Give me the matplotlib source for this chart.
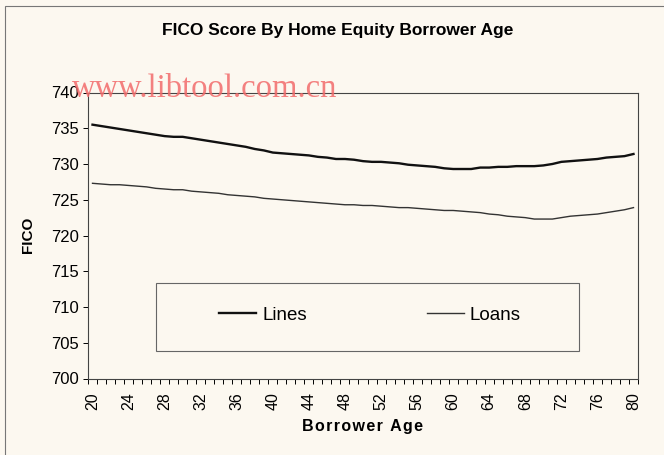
import numpy as np
import matplotlib.pyplot as plt
from matplotlib.patches import Rectangle

# ============================
# data
# ============================
ages = list(range(20, 81))
lines_fico = [735.5, 735.3, 735.1, 734.9, 734.7, 734.5, 734.3, 734.1, 733.9, 733.8,
              733.8, 733.6, 733.4, 733.2, 733.0, 732.8, 732.6, 732.4, 732.1, 731.9,
              731.6, 731.5, 731.4, 731.3, 731.2, 731.0, 730.9, 730.7, 730.7, 730.6,
              730.4, 730.3, 730.3, 730.2, 730.1, 729.9, 729.8, 729.7, 729.6, 729.4,
              729.3, 729.3, 729.3, 729.5, 729.5, 729.6, 729.6, 729.7, 729.7, 729.7,
              729.8, 730.0, 730.3, 730.4, 730.5, 730.6, 730.7, 730.9, 731.0, 731.1,
              731.4]
loans_fico = [727.3, 727.2, 727.1, 727.1, 727.0, 726.9, 726.8, 726.6, 726.5, 726.4,
              726.4, 726.2, 726.1, 726.0, 725.9, 725.7, 725.6, 725.5, 725.4, 725.2,
              725.1, 725.0, 724.9, 724.8, 724.7, 724.6, 724.5, 724.4, 724.3, 724.3,
              724.2, 724.2, 724.1, 724.0, 723.9, 723.9, 723.8, 723.7, 723.6, 723.5,
              723.5, 723.4, 723.3, 723.2, 723.0, 722.9, 722.7, 722.6, 722.5, 722.3,
              722.3, 722.3, 722.5, 722.7, 722.8, 722.9, 723.0, 723.2, 723.4, 723.6,
              723.9]
x_labels = [str(a) for a in range(20, 81, 4)]
y_ticks = list(range(700, 745, 5))

bg = '#fcf8f0'
plt.rcParams['font.family'] = ['Liberation Sans', 'DejaVu Sans']

W, H = 664, 455
fig = plt.figure(figsize=(6.64, 4.55), dpi=100, facecolor=bg)
ax = fig.add_axes([88 / W, 1 - 378.5 / H, 550 / W, 286 / H])
ax.set_facecolor(bg)

ax.plot(ages, lines_fico, color='#111111', lw=1.7, label='Lines')
ax.plot(ages, loans_fico, color='#333333', lw=1.0, label='Loans')

ax.set_xlim(19.5, 80.5)
ax.set_ylim(700, 740)
ax.set_yticks(y_ticks)
ax.set_xticks(range(20, 81, 4))
ax.set_xticklabels(x_labels, rotation=90, fontsize=11.5)
ax.set_xticks(np.arange(19.5, 81, 1), minor=True)
ax.tick_params(axis='x', which='major', length=0, pad=10)
ax.tick_params(axis='x', which='minor', length=3.5, direction='out', width=0.7)
ax.tick_params(axis='y', length=3.5, width=0.7, labelsize=12, pad=3)
for s in ax.spines.values():
    s.set_color('#444444')
    s.set_linewidth(0.8)

fig.text(337.5 / W, 1 - 30 / H, 'FICO Score By Home Equity Borrower Age',
         fontsize=12.5, fontweight='bold', ha='center', va='center')
fig.text(28 / W, 1 - 235 / H, 'FICO', fontsize=11, fontweight='bold',
         rotation=90, ha='center', va='center')
fig.text(363 / W, 1 - 427 / H, '\u200a'.join('Borrower Age'), fontsize=11.5,
         fontweight='bold', ha='center', va='center')

# legend box
ax.add_patch(Rectangle((0.123, 0.0966), 0.770, 0.236, transform=ax.transAxes,
                       fill=False, edgecolor='#666666', lw=0.8))
ax.legend(loc='center', bbox_to_anchor=(0.5125, 0.2216), ncol=2, frameon=False,
          fontsize=13.5, handlelength=2.0, handletextpad=0.3, columnspacing=6.4)

# outer frame and watermark
fig.add_artist(Rectangle((5 / W, -0.02), 1.0, 1 - 6 / H + 0.02,
                         transform=fig.transFigure, fill=False, edgecolor='#777777', lw=0.8))
fig.text(72 / W, 1 - 96.7 / H, 'www.libtool.com.cn', color='#f26b6b', alpha=0.85,
         fontsize=23.5, va='baseline', family=['Liberation Serif', 'DejaVu Serif'])

plt.savefig('out.png', dpi=100, facecolor=bg)
